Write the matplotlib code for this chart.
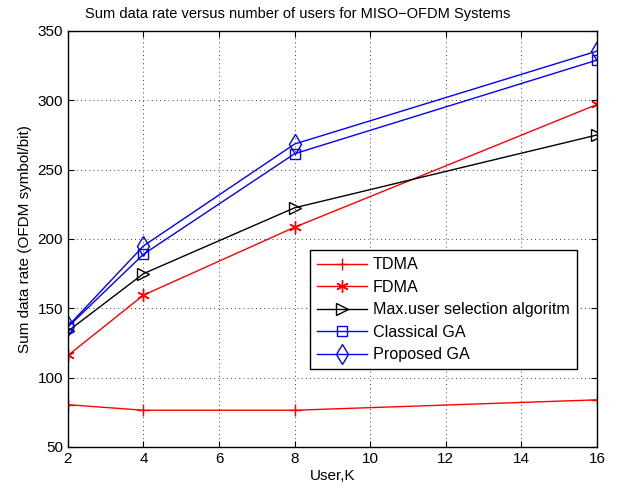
import numpy as np
import matplotlib.pyplot as plt

plt.rcParams['font.family'] = ['Liberation Sans', 'DejaVu Sans']

users = [2, 4, 8, 16]
tdma = [80.5, 76.5, 76.5, 84]
fdma = [116, 159.5, 208.5, 297]
max_user = [133.5, 175, 222.5, 275]
classical_ga = [136.5, 189, 261.5, 329]
proposed_ga = [137, 195, 268.5, 335.5]

fig = plt.figure(figsize=(6.17, 4.92), dpi=100)
ax = fig.add_axes([0.110, 0.0915, 0.8576, 0.8455])

# asterisk marker like matlab's '*'
asterisk = (6, 2, 0)

ax.plot(users, tdma, color='red', linewidth=1, marker='+', markersize=9,
        label='TDMA')
ax.plot(users, fdma, color='red', linewidth=1, marker=asterisk, markersize=9,
        label='FDMA')
ax.plot(users, max_user, color='black', linewidth=1, marker='>', markersize=9,
        markerfacecolor='none', label='Max.user selection algoritm')
ax.plot(users, classical_ga, color='blue', linewidth=1, marker='s', markersize=7,
        markerfacecolor='none', label='Classical GA')
ax.plot(users, proposed_ga, color='blue', linewidth=1, marker='d', markersize=10,
        markerfacecolor='none', label='Proposed GA')

ax.set_xlim(2, 16)
ax.set_ylim(50, 350)
ax.set_xticks(np.arange(2, 17, 2))
ax.set_yticks(np.arange(50, 351, 50))
ax.grid(True, linestyle=(0, (1, 4)), color='black', linewidth=0.6)
ax.tick_params(direction='in', top=True, right=True, labelsize=11, length=4)
for s in ax.spines.values():
    s.set_linewidth(1)

ax.set_xlabel('User,K', fontsize=11, labelpad=2)
ax.set_ylabel('Sum data rate (OFDM symbol/bit)', fontsize=11, labelpad=4)
fig.text(0.483, 0.972, 'Sum data rate versus number of users for MISO\u2212OFDM Systems',
         fontsize=10.5, ha='center', va='center')

leg = ax.legend(loc='upper left', bbox_to_anchor=(0.442, 0.492), fontsize=11.6,
                fancybox=False, edgecolor='black', framealpha=1,
                borderpad=0.42, labelspacing=0.47, handlelength=3.1,
                handletextpad=0.4)
leg.get_frame().set_linewidth(1)

fig.savefig('out.png', dpi=100)
